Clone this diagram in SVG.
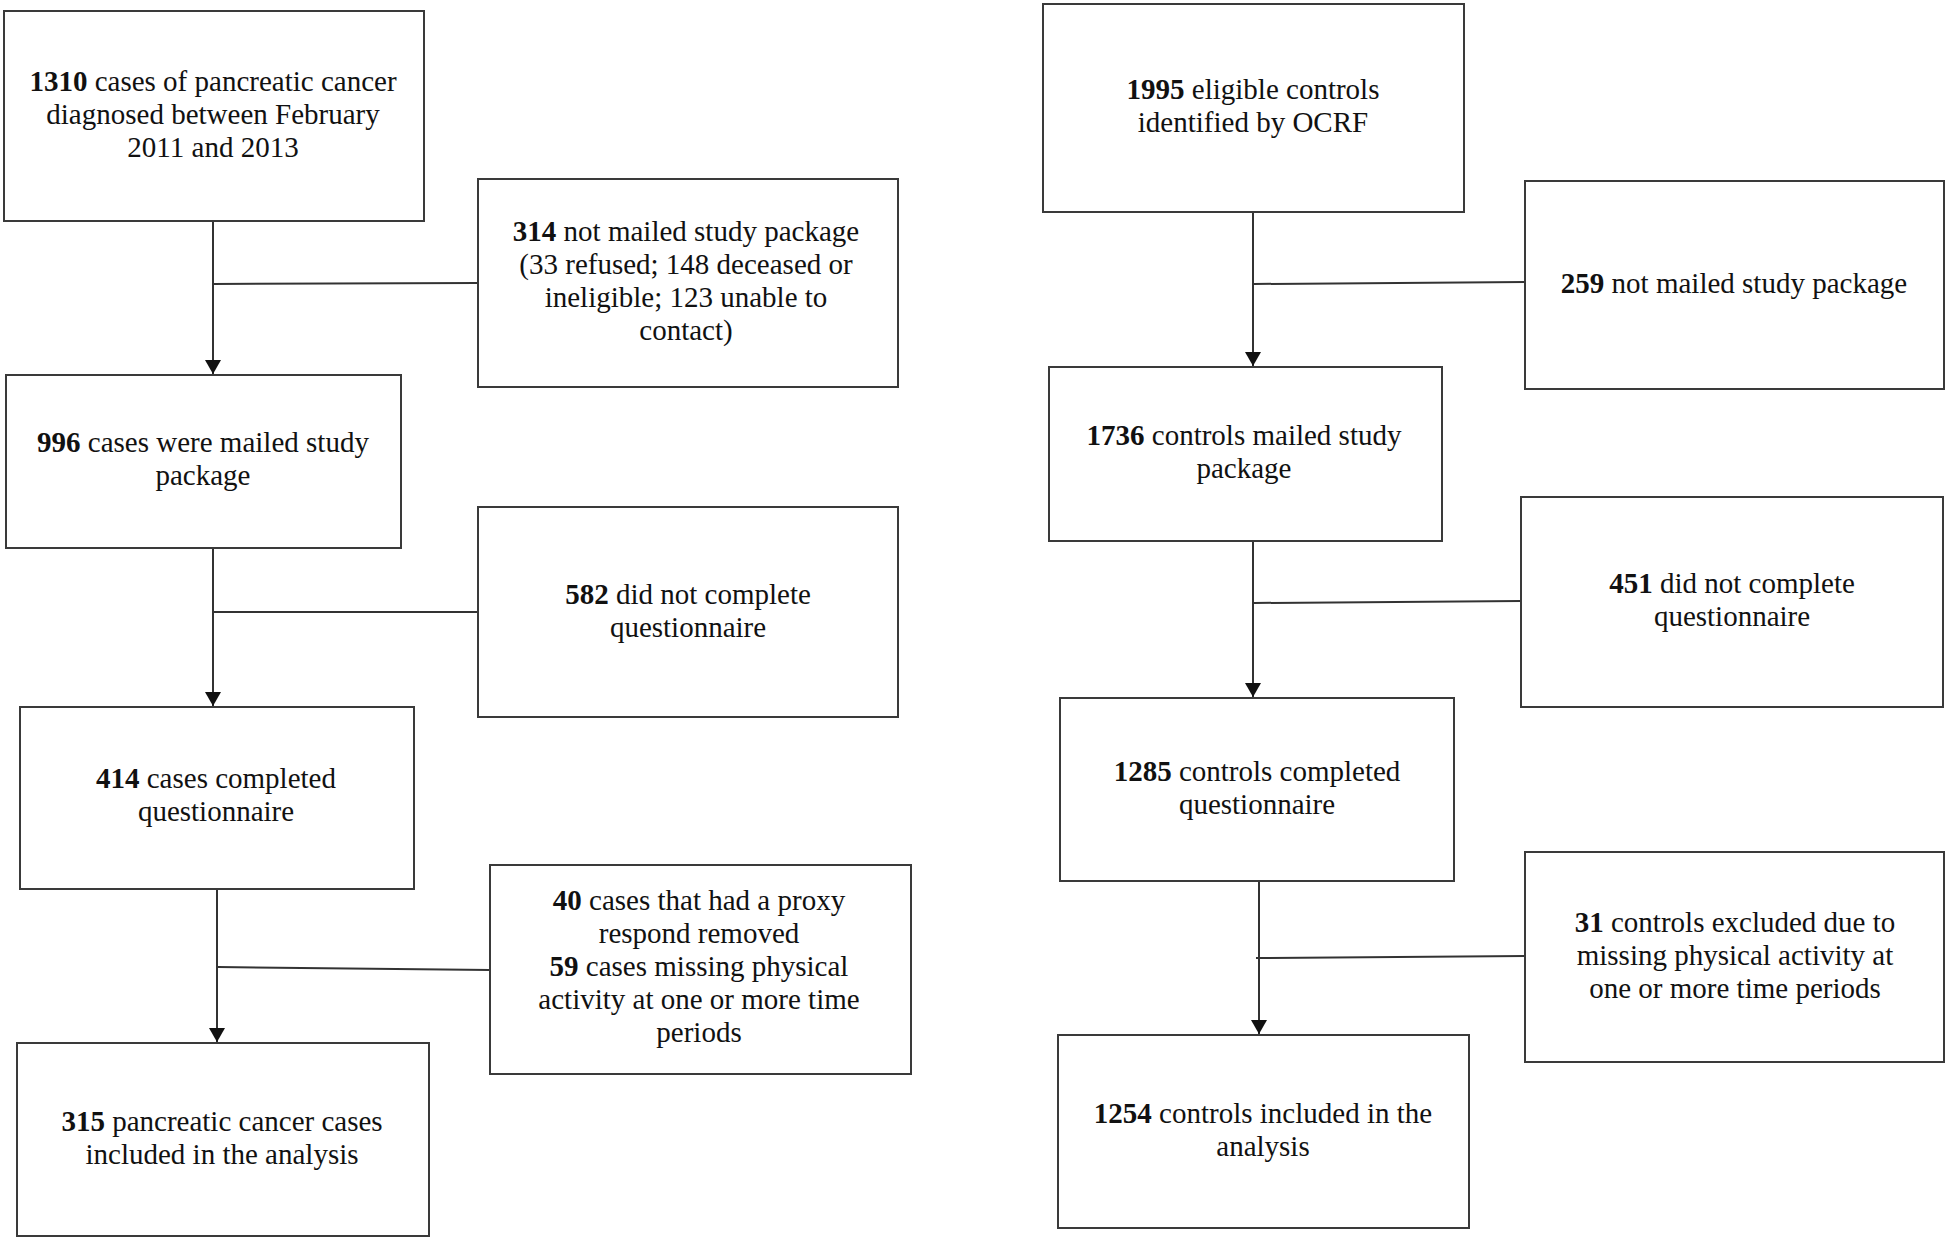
<svg xmlns="http://www.w3.org/2000/svg" width="1946" height="1238" viewBox="0 0 1946 1238">
<style>
.box{fill:#fff;stroke:#3a3a3a;stroke-width:2}
.t{font-family:"Liberation Serif","Times New Roman",serif;font-size:29px;fill:#111;text-anchor:middle}
.b{font-weight:bold}
.c{stroke:#333;stroke-width:2;fill:none}
</style>
<defs>
<marker id="ah" viewBox="0 0 14 16" refX="14" refY="8" markerWidth="14" markerHeight="16" markerUnits="userSpaceOnUse" orient="auto">
<path d="M0,0 L14,8 L0,16 Z" fill="#111"/>
</marker>
</defs>
<rect width="1946" height="1238" fill="#fff"/>
<g id="connectors">
<line class="c" x1="213" y1="221" x2="213" y2="374" marker-end="url(#ah)"/>
<line class="c" x1="478" y1="283" x2="213" y2="284"/>
<line class="c" x1="213" y1="548" x2="213" y2="706" marker-end="url(#ah)"/>
<line class="c" x1="478" y1="612" x2="213" y2="612"/>
<line class="c" x1="217" y1="889" x2="217" y2="1042" marker-end="url(#ah)"/>
<line class="c" x1="490" y1="970" x2="218" y2="967"/>
<line class="c" x1="1253" y1="212" x2="1253" y2="366" marker-end="url(#ah)"/>
<line class="c" x1="1525" y1="282" x2="1254" y2="284"/>
<line class="c" x1="1253" y1="541" x2="1253" y2="697" marker-end="url(#ah)"/>
<line class="c" x1="1521" y1="601" x2="1254" y2="603"/>
<line class="c" x1="1259" y1="881" x2="1259" y2="1034" marker-end="url(#ah)"/>
<line class="c" x1="1525" y1="956" x2="1256" y2="958"/>
</g>
<g id="n1310">
<rect class="box" x="4" y="11" width="420" height="210"/>
<text class="t" x="213" y="91"><tspan class="b">1310</tspan> cases of pancreatic cancer</text>
<text class="t" x="213" y="124">diagnosed between February</text>
<text class="t" x="213" y="157">2011 and 2013</text>
</g>
<g id="n314">
<rect class="box" x="478" y="179" width="420" height="208"/>
<text class="t" x="686" y="241"><tspan class="b">314</tspan> not mailed study package</text>
<text class="t" x="686" y="274">(33 refused; 148 deceased or</text>
<text class="t" x="686" y="307">ineligible; 123 unable to</text>
<text class="t" x="686" y="340">contact)</text>
</g>
<g id="n996">
<rect class="box" x="6" y="375" width="395" height="173"/>
<text class="t" x="203" y="452"><tspan class="b">996</tspan> cases were mailed study</text>
<text class="t" x="203" y="485">package</text>
</g>
<g id="n582">
<rect class="box" x="478" y="507" width="420" height="210"/>
<text class="t" x="688" y="604"><tspan class="b">582</tspan> did not complete</text>
<text class="t" x="688" y="637">questionnaire</text>
</g>
<g id="n414">
<rect class="box" x="20" y="707" width="394" height="182"/>
<text class="t" x="216" y="788"><tspan class="b">414</tspan> cases completed</text>
<text class="t" x="216" y="821">questionnaire</text>
</g>
<g id="n40">
<rect class="box" x="490" y="865" width="421" height="209"/>
<text class="t" x="699" y="910"><tspan class="b">40</tspan> cases that had a proxy</text>
<text class="t" x="699" y="943">respond removed</text>
<text class="t" x="699" y="976"><tspan class="b">59</tspan> cases missing physical</text>
<text class="t" x="699" y="1009">activity at one or more time</text>
<text class="t" x="699" y="1042">periods</text>
</g>
<g id="n315">
<rect class="box" x="17" y="1043" width="412" height="193"/>
<text class="t" x="222" y="1131"><tspan class="b">315</tspan> pancreatic cancer cases</text>
<text class="t" x="222" y="1164">included in the analysis</text>
</g>
<g id="n1995">
<rect class="box" x="1043" y="4" width="421" height="208"/>
<text class="t" x="1253" y="99"><tspan class="b">1995</tspan> eligible controls</text>
<text class="t" x="1253" y="132">identified by OCRF</text>
</g>
<g id="n259">
<rect class="box" x="1525" y="181" width="419" height="208"/>
<text class="t" x="1734" y="293"><tspan class="b">259</tspan> not mailed study package</text>
</g>
<g id="n1736">
<rect class="box" x="1049" y="367" width="393" height="174"/>
<text class="t" x="1244" y="445"><tspan class="b">1736</tspan> controls mailed study</text>
<text class="t" x="1244" y="478">package</text>
</g>
<g id="n451">
<rect class="box" x="1521" y="497" width="422" height="210"/>
<text class="t" x="1732" y="593"><tspan class="b">451</tspan> did not complete</text>
<text class="t" x="1732" y="626">questionnaire</text>
</g>
<g id="n1285">
<rect class="box" x="1060" y="698" width="394" height="183"/>
<text class="t" x="1257" y="781"><tspan class="b">1285</tspan> controls completed</text>
<text class="t" x="1257" y="814">questionnaire</text>
</g>
<g id="n31">
<rect class="box" x="1525" y="852" width="419" height="210"/>
<text class="t" x="1735" y="932"><tspan class="b">31</tspan> controls excluded due to</text>
<text class="t" x="1735" y="965">missing physical activity at</text>
<text class="t" x="1735" y="998">one or more time periods</text>
</g>
<g id="n1254">
<rect class="box" x="1058" y="1035" width="411" height="193"/>
<text class="t" x="1263" y="1123"><tspan class="b">1254</tspan> controls included in the</text>
<text class="t" x="1263" y="1156">analysis</text>
</g>
</svg>
